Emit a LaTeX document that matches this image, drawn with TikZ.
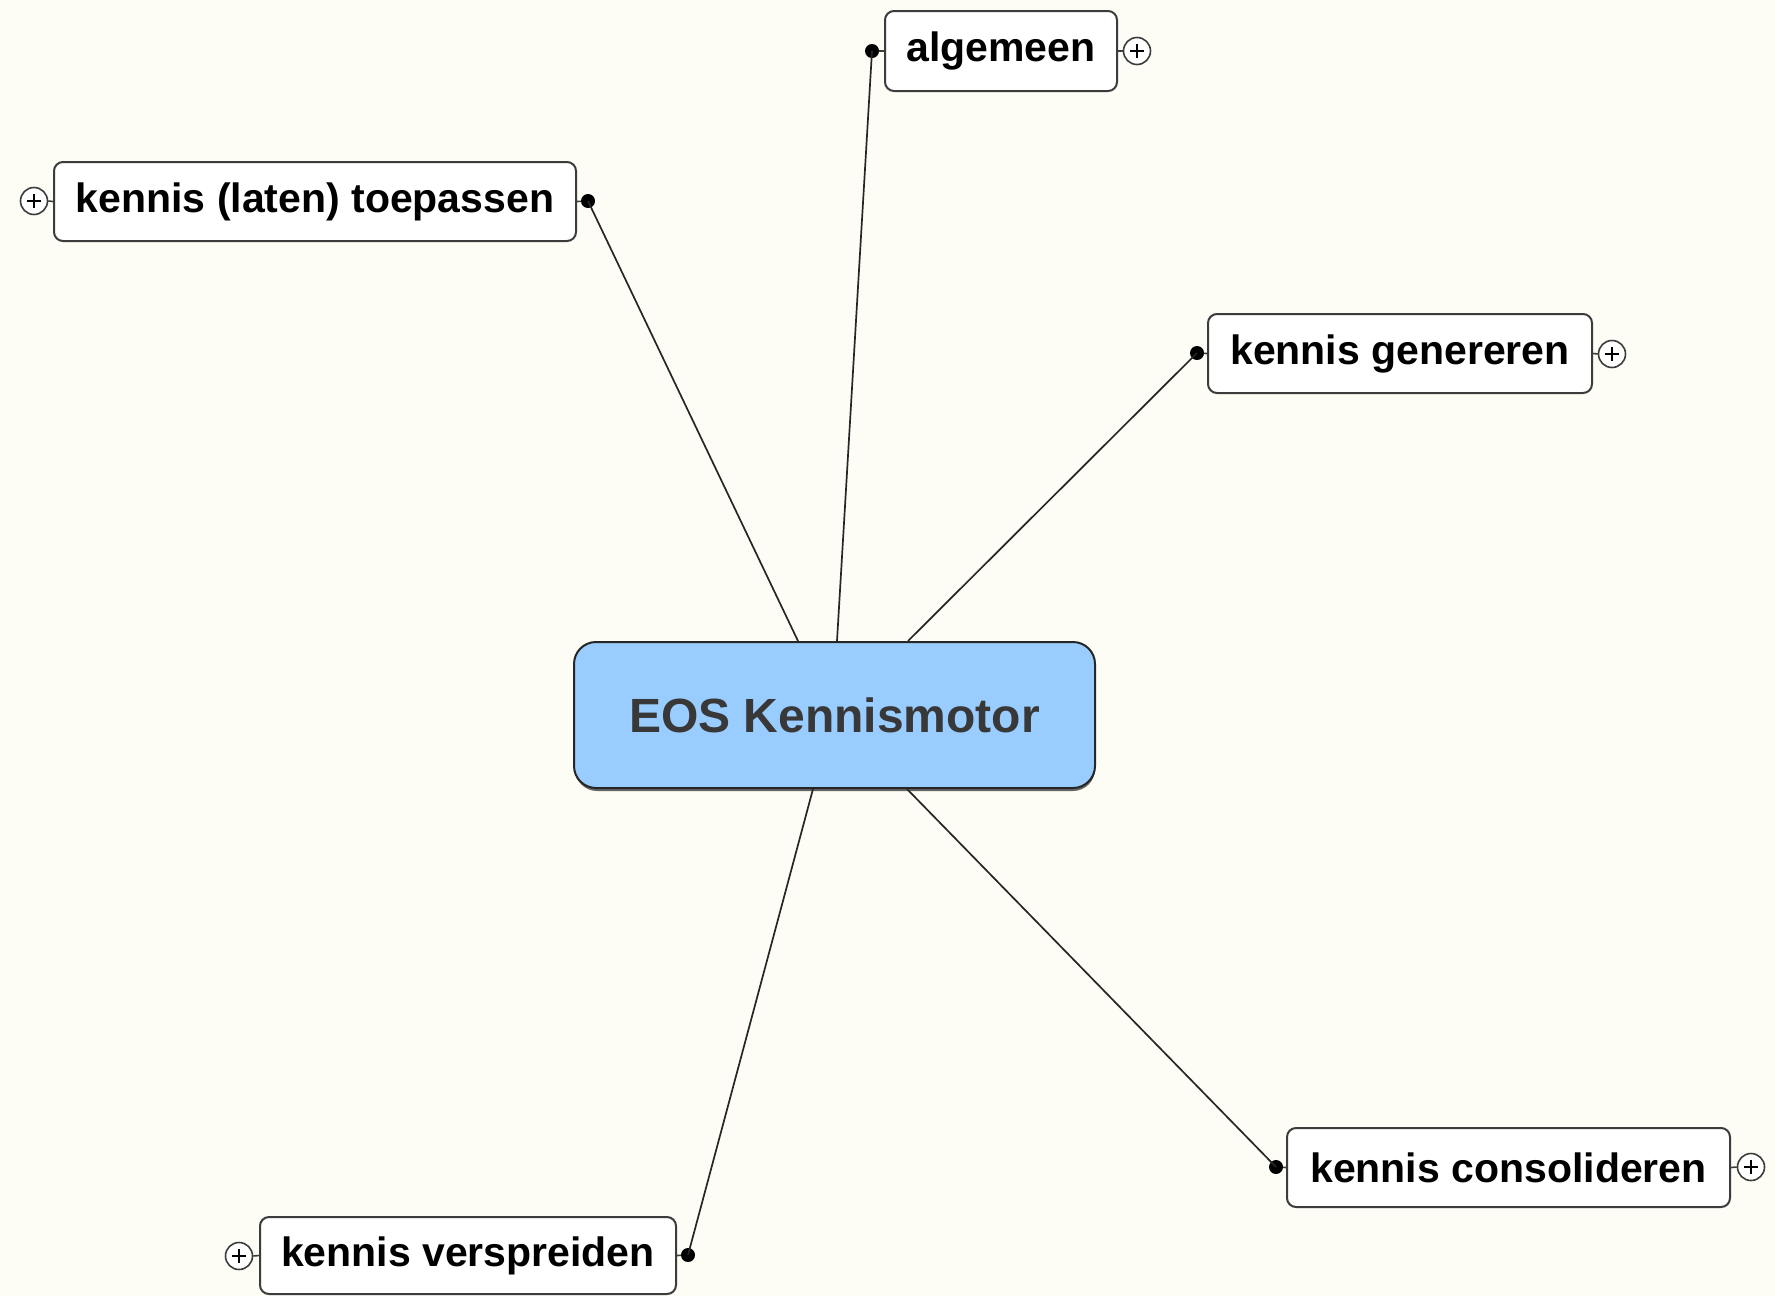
\documentclass[tikz,border=0pt]{standalone}
\usepackage{fontspec}
\setmainfont{Liberation Sans}
\usetikzlibrary{calc}
\definecolor{bgcol}{HTML}{FDFDF6}
\definecolor{hubfill}{HTML}{99CCFF}
\definecolor{hubtext}{HTML}{383838}
\definecolor{edge}{HTML}{3C3C3C}
\tikzset{
  leaf/.style={draw=edge, line width=2pt, rounded corners=9pt, fill=white, inner sep=0pt,
    font=\bfseries\fontsize{41}{41}\selectfont, text=black},
  hub/.style={draw=black!85, line width=2pt, rounded corners=22pt, fill=hubfill, inner sep=0pt,
    font=\bfseries\fontsize{48}{48}\selectfont, text=hubtext},
  knob/.style={circle, fill=black, inner sep=0pt, minimum size=14pt},
  plusc/.style={circle, draw=edge, line width=1.6pt, fill=white, inner sep=0pt, minimum size=27pt},
  conn/.style={line width=1.7pt, draw=black!85},
  tick/.style={line width=1.6pt, draw=edge},
}
\newcommand{\plussign}[1]{\draw[line width=1.5pt] ($(#1)+(-7,0)$) -- ($(#1)+(7,0)$) ($(#1)+(0,-7)$) -- ($(#1)+(0,7)$);}
\begin{document}
\begin{tikzpicture}[x=1pt,y=-1pt]
\fill[bgcol] (0,0) rectangle (1775,1296);
\useasboundingbox (0,0) rectangle (1775,1296);

% hub shadow
\fill[black!60, rounded corners=22pt] (575,645) rectangle (1095,791);
\node[hub, minimum width=521pt, minimum height=146pt] (c) at (834.5,715) {EOS Kennismotor};

% leaves
\node[leaf, minimum width=232pt, minimum height=80pt] (alg) at (1001,51) {algemeen};
\node[leaf, minimum width=522pt, minimum height=79pt] (toe) at (315,201.5) {kennis (laten) toepassen};
\node[leaf, minimum width=384pt, minimum height=79pt] (gen) at (1400,353.5) {kennis genereren};
\node[leaf, minimum width=443pt, minimum height=79pt] (cons) at (1508.5,1167.5) {kennis consolideren};
\node[leaf, minimum width=416pt, minimum height=77pt] (vers) at (468,1255.5) {kennis verspreiden};

% knobs (attachment dots)
\node[knob] (kalg) at (872,51) {};
\node[knob] (ktoe) at (588,201) {};
\node[knob] (kgen) at (1197,353) {};
\node[knob] (kcons) at (1276,1167) {};
\node[knob] (kvers) at (688,1255) {};
\draw[tick] (kalg) -- (alg.west);
\draw[tick] (ktoe) -- (toe.east);
\draw[tick] (kgen) -- (gen.west);
\draw[tick] (kcons) -- (cons.west);
\draw[tick] (kvers) -- (vers.east);

% expand buttons
\node[plusc] (palg) at (1137,51) {};
\node[plusc] (ptoe) at (34,201) {};
\node[plusc] (pgen) at (1612,354) {};
\node[plusc] (pcons) at (1751,1167) {};
\node[plusc] (pvers) at (239,1256) {};
\plussign{palg}\plussign{ptoe}\plussign{pgen}\plussign{pcons}\plussign{pvers}
\draw[tick] (alg.east) -- (palg.west);
\draw[tick] (toe.west) -- (ptoe.east);
\draw[tick] (gen.east) -- (pgen.west);
\draw[tick] (cons.east) -- (pcons.west);
\draw[tick] (vers.west) -- (pvers.east);

% connector anchors on hub
\coordinate (htoe) at ($(c.north west)+(225,0)$);
\coordinate (halg) at ($(c.north west)+(264,0)$);
\coordinate (hgen) at ($(c.north west)+(335,0)$);
\coordinate (hvers) at ($(c.south west)+(240,0)$);
\coordinate (hcons) at ($(c.south west)+(334,0)$);

\draw[conn] (htoe) -- (ktoe.center);
\draw[conn] (halg) -- (kalg.center);
\draw[conn] (hgen) -- (kgen.center);
\draw[conn] (hvers) -- (kvers.center);
\draw[conn] (hcons) -- (kcons.center);
\end{tikzpicture}
\end{document}
